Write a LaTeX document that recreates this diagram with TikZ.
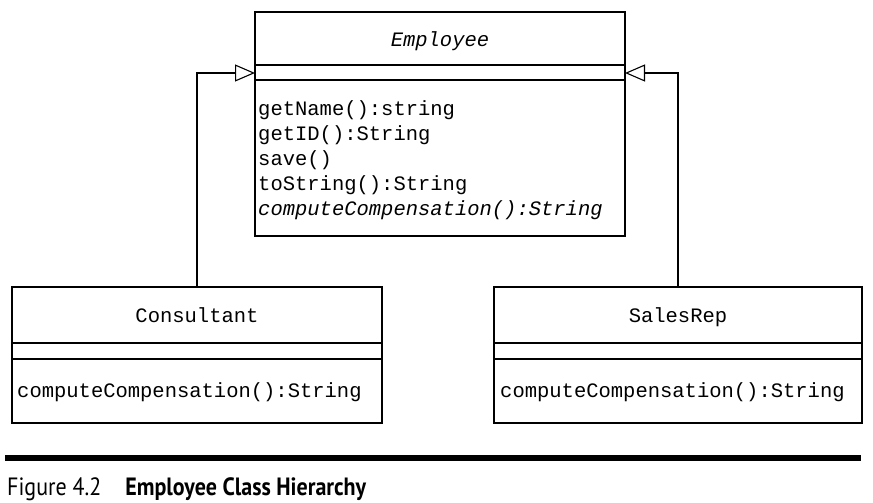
\documentclass[tikz,border=0pt]{standalone}
\usepackage{fontspec}
\setmonofont{Liberation Mono}
\newfontfamily\capfont[FakeStretch=0.88]{PT Sans}
\usetikzlibrary{arrows.meta}
\begin{document}
\begin{tikzpicture}[x=1pt,y=-1pt,
  classbox/.style={draw, line width=1.8pt, inner sep=0pt},
  sep/.style={line width=1.8pt},
  mono/.style={font=\ttfamily\fontsize{20.5}{24}\selectfont, inner sep=0pt},
  meth/.style={mono, anchor=base west},
  ttl/.style={mono, anchor=base},
  gen/.style={line width=1.1pt, -{Triangle[open, length=20pt, width=17pt, fill=white]}}]
\useasboundingbox (0,0) rectangle (873,503);
% classes
\node[classbox, minimum width=370pt, minimum height=224pt] (emp) at (440,124) {};
\node[classbox, minimum width=370pt, minimum height=136pt] (cons) at (197,355) {};
\node[classbox, minimum width=368pt, minimum height=136pt] (sales) at (678,355) {};
% separators
\draw[sep] (emp.west |- 0,65) -- (emp.east |- 0,65);
\draw[sep] (emp.west |- 0,80) -- (emp.east |- 0,80);
\draw[sep] (cons.west |- 0,343) -- (cons.east |- 0,343);
\draw[sep] (cons.west |- 0,359) -- (cons.east |- 0,359);
\draw[sep] (sales.west |- 0,343) -- (sales.east |- 0,343);
\draw[sep] (sales.west |- 0,359) -- (sales.east |- 0,359);
% texts
\node[ttl] (empname) at (440,47) {\itshape Employee};
\node[meth] (m1) at (258,115) {getName():string};
\node[meth] (m2) at (258,140) {getID():String};
\node[meth] (m3) at (258,165) {save()};
\node[meth] (m4) at (258,190) {toString():String};
\node[meth] (m5) at (258,215) {\itshape computeCompensation():String};
\node[ttl] (consname) at (197,322) {Consultant};
\node[meth] (cm) at (17,397) {computeCompensation():String};
\node[ttl] (salesname) at (678,322) {SalesRep};
\node[meth] (sm) at (500,397) {computeCompensation():String};
% connectors
\coordinate (empL) at (255,73);
\coordinate (empR) at (625,73);
\draw[gen] (cons.north) |- (empL);
\draw[gen] (sales.north) |- (empR);
% caption
\coordinate (ruleL) at (5,458);
\coordinate (ruleR) at (861,458);
\draw[line width=5.5pt] (ruleL) -- (ruleR);
\node[anchor=base west, inner sep=0pt, font=\capfont\fontsize{25}{28}\selectfont] (cap) at (7,495) {Figure 4.2\hspace{24pt}\textbf{Employee Class Hierarchy}};
\end{tikzpicture}
\end{document}
